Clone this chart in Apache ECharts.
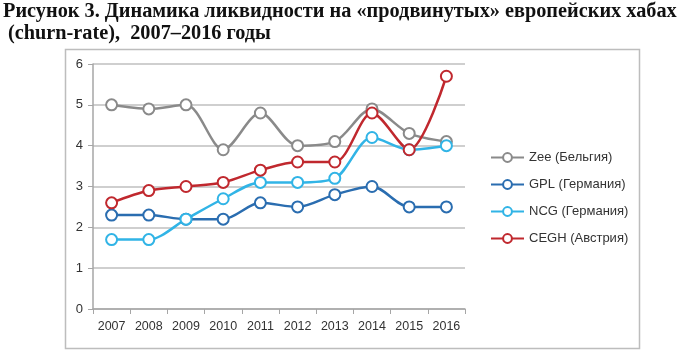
<!DOCTYPE html>
<html lang="ru">
<head>
<meta charset="UTF-8">
<title>Динамика ликвидности</title>
<script src="https://cdn.jsdelivr.net/npm/echarts@6/dist/echarts.min.js"></script>
</head>
<body style="margin:0">
<div id="main" style="width: 680px;height:352px;"></div>
<script>
  const years = ['2007', '2008', '2009', '2010', '2011', '2012', '2013', '2014', '2015', '2016'];
  const zee = [5.0, 4.9, 5.0, 3.9, 4.8, 4.0, 4.1, 4.9, 4.3, 4.1];
  const gpl = [2.3, 2.3, 2.2, 2.2, 2.6, 2.5, 2.8, 3.0, 2.5, 2.5];
  const ncg = [1.7, 1.7, 2.2, 2.7, 3.1, 3.1, 3.2, 4.2, 3.9, 4.0];
  const cegh = [2.6, 2.9, 3.0, 3.1, 3.4, 3.6, 3.6, 4.8, 3.9, 5.7];
  const names = ['Zee (Бельгия)', 'GPL (Германия)', 'NCG (Германия)', 'CEGH (Австрия)'];
  const colors = ['#8a8a8a', '#2a6db0', '#31b4e6', '#c0282e'];

  const myChart = echarts.init(document.getElementById('main'));

  function line(name, data, color) {
    return {
      name: name,
      type: 'line',
      smooth: 0.3,
      data: data,
      symbol: 'emptyCircle',
      symbolSize: 11,
      color: color,
      lineStyle: {width: 2.5, color: color},
      itemStyle: {color: color, borderWidth: 2}
    };
  }

  const option = {
    animation: false,
    graphic: [
      {
        type: 'text', left: 3, top: 2,
        style: {
          text: 'Рисунок 3. Динамика ликвидности на «продвинутых» европейских хабах',
          font: 'bold 20.3px "Liberation Serif"', fill: '#111'
        }
      },
      {
        type: 'text', left: 8, top: 24,
        style: {
          text: '(churn-rate),  2007–2016 годы',
          font: 'bold 20.3px "Liberation Serif"', fill: '#111'
        }
      },
      {
        type: 'rect', left: 63, top: 47, z: -1,
        shape: {width: 574, height: 299},
        style: {fill: 'none', stroke: '#bdbdbd', lineWidth: 1.5}
      }
    ],
    legend: {
      orient: 'vertical',
      left: 485,
      top: 146,
      itemGap: 14,
      itemWidth: 33,
      itemHeight: 11,
      data: names,
      textStyle: {fontFamily: 'Liberation Sans', fontSize: 13, color: '#333'}
    },
    grid: {left: 93, right: 215, top: 64, bottom: 43},
    xAxis: {
      type: 'category',
      data: years,
      axisLine: {lineStyle: {color: '#a6a6a6', width: 1.5}},
      axisTick: {show: true, length: 5, lineStyle: {color: '#a6a6a6'}},
      axisLabel: {fontFamily: 'Liberation Sans', fontSize: 12.5, color: '#333', margin: 11}
    },
    yAxis: {
      type: 'value',
      min: 0,
      max: 6,
      interval: 1,
      axisLine: {show: true, lineStyle: {color: '#a6a6a6', width: 1.5}},
      axisTick: {show: true, length: 5, lineStyle: {color: '#a6a6a6'}},
      splitLine: {lineStyle: {color: '#bfbfbf', width: 1.5}},
      axisLabel: {fontFamily: 'Liberation Sans', fontSize: 13, color: '#333', margin: 10}
    },
    series: [
      line(names[0], zee, colors[0]),
      line(names[1], gpl, colors[1]),
      line(names[2], ncg, colors[2]),
      line(names[3], cegh, colors[3])
    ]
  };
  myChart.setOption(option);
</script>
</body>
</html>
